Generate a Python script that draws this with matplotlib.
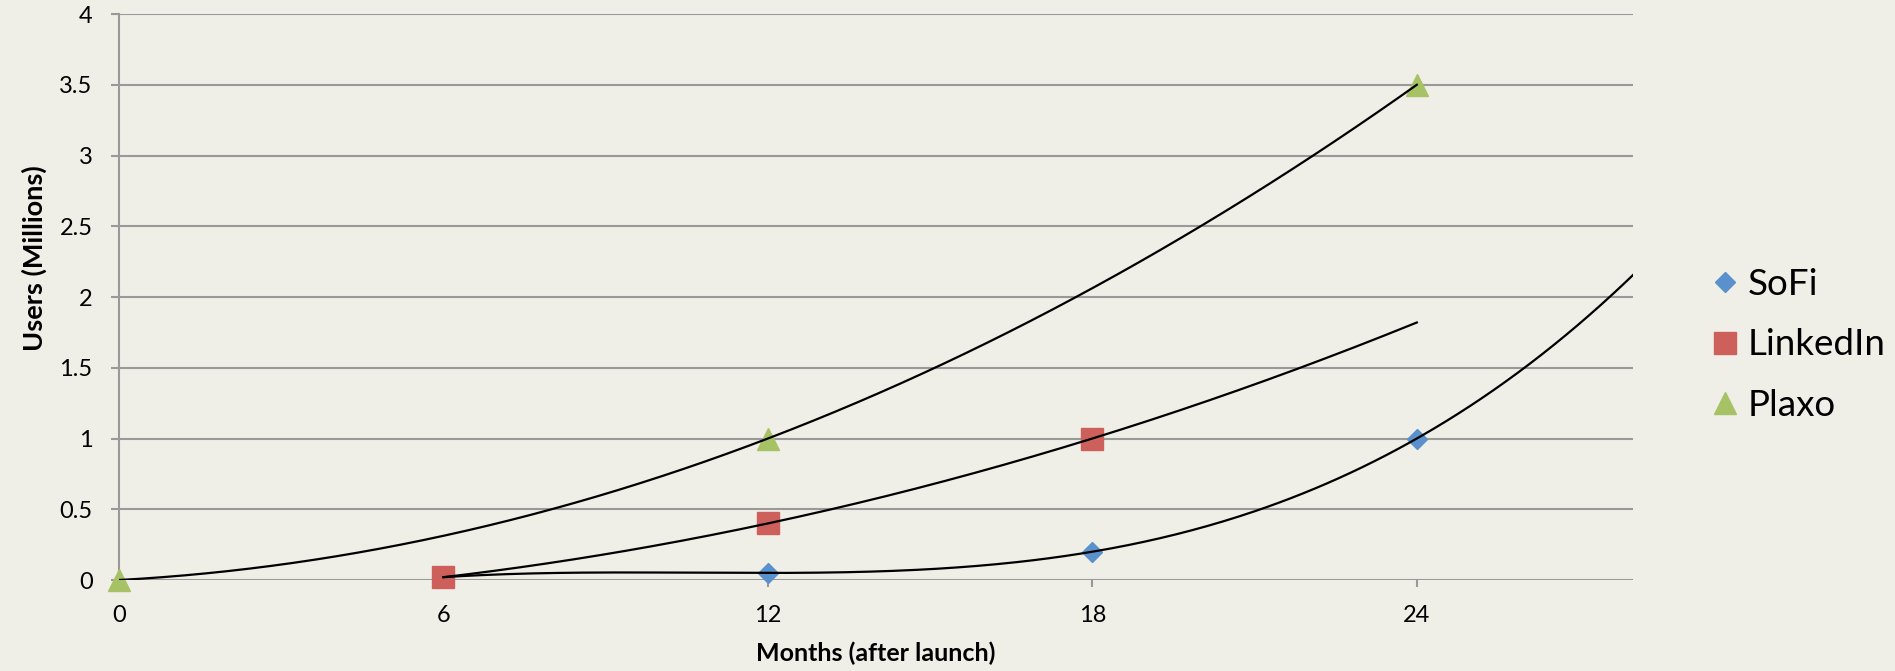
import matplotlib.pyplot as plt
import numpy as np

# data (months after launch, users in millions)
sofi_months = [6, 12, 18, 24]
sofi_users = [0.02, 0.05, 0.2, 1.0]
linkedin_months = [6, 12, 18]
linkedin_users = [0.02, 0.4, 1.0]
plaxo_months = [0, 12, 24]
plaxo_users = [0.0, 1.0, 3.5]

# trendline settings: polynomial order and x range (forecast)
sofi_trend = (3, 6, 28)
linkedin_trend = (2, 6, 24)
plaxo_trend = (2, 0, 24)

x_ticks = [0, 6, 12, 18, 24]
y_ticks = [0, 0.5, 1, 1.5, 2, 2.5, 3, 3.5, 4]
y_tick_labels = ["0", "0.5", "1", "1.5", "2", "2.5", "3", "3.5", "4"]

BG = "#efefe7"
GRID = "#999999"

plt.rcParams["font.family"] = ["Lato", "DejaVu Sans"]

fig = plt.figure(figsize=(18.95, 6.71), dpi=100, facecolor=BG)
ax = fig.add_axes([0.0628, 0.1356, 0.799, 0.8435], facecolor=BG)

series = [
    ("SoFi", sofi_months, sofi_users, sofi_trend, "D", 10.5, "#5a91cd"),
    ("LinkedIn", linkedin_months, linkedin_users, linkedin_trend, "s", 15.5, "#cd605a"),
    ("Plaxo", plaxo_months, plaxo_users, plaxo_trend, "^", 16, "#a6c264"),
]

handles = []
for name, xs, ys, (order, x0, x1), marker, ms, color in series:
    h, = ax.plot(xs, ys, ls="none", marker=marker, ms=ms, color=color,
                 mec=color, label=name, zorder=3, clip_on=False)
    handles.append(h)
    coef = np.polyfit(xs, ys, order)
    xt = np.linspace(x0, x1, 300)
    ax.plot(xt, np.polyval(coef, xt), color="black", lw=1.6, zorder=4)

ax.set_xlim(0, 28)
ax.set_ylim(0, 4)
ax.set_xticks(x_ticks)
ax.set_yticks(y_ticks)
ax.set_yticklabels(y_tick_labels)

ax.yaxis.grid(True, color=GRID, lw=1.5)
ax.set_axisbelow(True)
for s in ["top", "right", "bottom"]:
    ax.spines[s].set_visible(False)
ax.spines["left"].set_color(GRID)
ax.spines["left"].set_linewidth(1.5)

ax.tick_params(axis="y", length=6, width=1.5, color=GRID, pad=13,
               labelsize=17, labelcolor="black")
ax.tick_params(axis="x", length=5, width=1.5, color=GRID, pad=13,
               labelsize=17, labelcolor="black")

ax.set_xlabel("Months (after launch)", fontsize=18, fontweight="bold")
ax.set_ylabel("Users (Millions)", fontsize=19.5, fontweight="bold")
ax.xaxis.set_label_coords(0.5, -0.108)
ax.yaxis.set_label_coords(-0.0476, 0.569)

fig.legend(handles=handles, loc="center left", bbox_to_anchor=(0.893, 0.486),
           frameon=False, fontsize=26.5, handletextpad=0.1, labelspacing=0.75,
           handlelength=1.0, borderaxespad=0)

fig.savefig("out.png", dpi=100, facecolor=BG)
